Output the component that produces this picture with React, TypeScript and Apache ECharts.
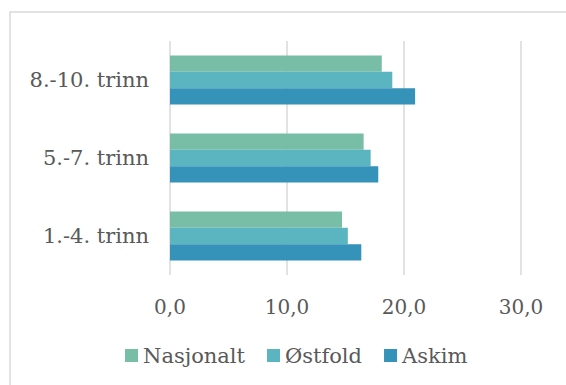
import React, { useEffect, useRef } from "react";
import * as echarts from "echarts";

const categories = ["1.-4. trinn", "5.-7. trinn", "8.-10. trinn"];
const seriesNames = ["Nasjonalt", "Østfold", "Askim"];
const nasjonalt = [14.7, 16.55, 18.1];
const ostfold = [15.2, 17.15, 19.0];
const askim = [16.35, 17.8, 20.95];
const colors = ["#78BEA6", "#5BB5C0", "#3592B9"];

export default function App() {
  const ref = useRef<HTMLDivElement>(null);
  useEffect(() => {
    const chart = echarts.init(ref.current!, null, { renderer: "svg" });
    const font = "DejaVu Serif";
    const textColor = "#595959";
    const values = [nasjonalt, ostfold, askim];
    chart.setOption({
      animation: false,
      graphic: [
        {
          type: "rect",
          shape: { x: 10, y: 12, width: 620, height: 420 },
          style: { fill: "none", stroke: "#D9D9D9", lineWidth: 1.5 },
          silent: true,
        },
      ],
      grid: { left: 170, right: 45, top: 41, height: 234 },
      legend: {
        data: seriesNames,
        left: 125,
        top: 345,
        padding: 0,
        icon: "rect",
        itemWidth: 13,
        itemHeight: 13,
        itemGap: 22,
        textStyle: { fontFamily: font, fontSize: 21, color: textColor },
      },
      xAxis: {
        type: "value",
        min: 0,
        max: 30,
        interval: 10,
        axisLine: { show: false },
        axisTick: { show: false },
        splitLine: { show: true, lineStyle: { color: "#D9D9D9", width: 1.5 } },
        axisLabel: {
          margin: 22,
          fontFamily: font,
          fontSize: 20,
          color: textColor,
          formatter: (v: number) => v.toFixed(1).replace(".", ","),
        },
      },
      yAxis: {
        type: "category",
        data: categories,
        axisLine: { show: false },
        axisTick: { show: false },
        axisLabel: { margin: 21, fontFamily: font, fontSize: 21, color: textColor },
      },
      series: seriesNames.map((name, i) => ({
        name,
        type: "bar",
        data: values[i],
        barGap: "0%",
        barCategoryGap: "37%",
        itemStyle: { color: colors[i] },
      })),
    });
    return () => chart.dispose();
  }, []);
  return (
    <div
      ref={ref}
      style={{ position: "fixed", left: 0, top: 0, width: 566, height: 385, background: "#fff" }}
    />
  );
}
